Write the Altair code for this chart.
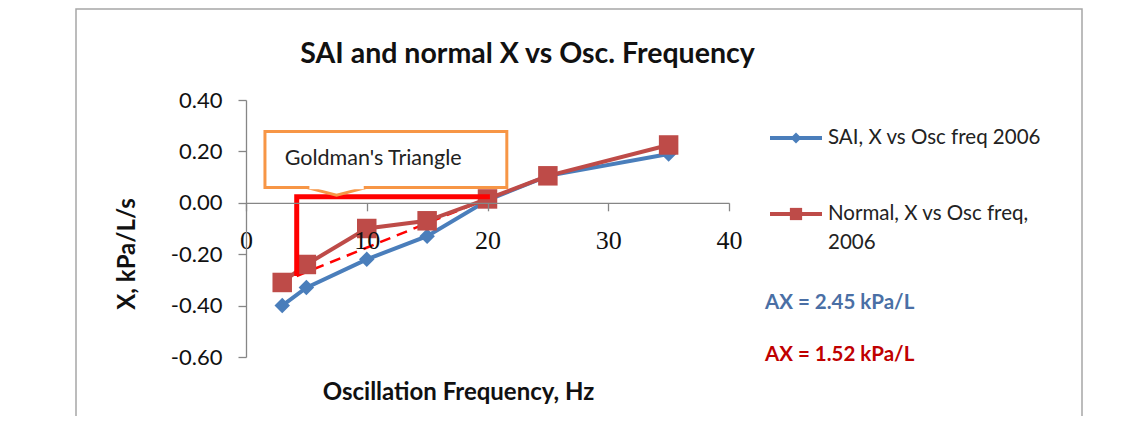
import altair as alt
import pandas as pd

# ---- data ----
freq = [3, 5, 10, 15, 20, 25, 35]
sai_x = [-0.40, -0.33, -0.22, -0.13, 0.01, 0.105, 0.19]
normal_x = [-0.31, -0.24, -0.10, -0.07, 0.015, 0.105, 0.225]
series_names = ["SAI, X vs Osc freq 2006", "Normal, X vs Osc freq, 2006"]

x_ticks = [0, 10, 20, 30, 40]
y_ticks = [-0.6, -0.4, -0.2, 0.0, 0.2, 0.4]

# Goldman's triangle (data coordinates)
tri_x = [4.2, 4.2, 20.2]
tri_y = [-0.285, 0.024, 0.024]
hyp_x = [4.2, 20.2]
hyp_y = [-0.285, 0.02]

# callout box (data coordinates)
box_x = [1.57, 21.6]
box_y = [0.06, 0.277]
notch_x = [5.0, 7.5, 10.0]
notch_y = [0.06, 0.03, 0.06]
callout_text = "Goldman's Triangle"
callout_pos = [3.2, 0.172]

title_text = "SAI and normal X vs Osc. Frequency"
x_title = "Oscillation Frequency, Hz"
y_title = "X, kPa/L/s"
ax_texts = ["AX = 2.45 kPa/L", "AX = 1.52 kPa/L"]

BLUE = "#4a7ebb"
RED = "#be4b48"
TRI = "#ff0000"
ORANGE = "#f79646"
AXIS_C = "#868686"

W, H = 483, 257

xs = alt.Scale(domain=[0, 40], nice=False, zero=False)
ys = alt.Scale(domain=[-0.6, 0.4], nice=False, zero=False)

X_AXIS = alt.Axis(
    values=x_ticks, grid=False, offset=-154.2, tickSize=8, labelPadding=38,
    labelBaseline="alphabetic", labelFont="Liberation Serif", labelFontSize=26,
    labelColor="#111", domainColor=AXIS_C, tickColor=AXIS_C, domainWidth=1.3,
    tickWidth=1.3, title=None, labelFlush=False, labelOverlap=False, zindex=1)
Y_AXIS = alt.Axis(
    values=y_ticks, grid=False, tickSize=8, labelPadding=16,
    labelExpr="replace(format(datum.value, '.2f'), '\u2212', '-')",
    labelFont="Lato", labelFontSize=22, labelColor="#111",
    domainColor=AXIS_C, tickColor=AXIS_C, domainWidth=1.3, tickWidth=1.3,
    title=None, labelOverlap=False, zindex=1)


def X(field):
    return alt.X(field, scale=xs, axis=X_AXIS)


def Y(field):
    return alt.Y(field, scale=ys, axis=Y_AXIS)


sai_df = pd.DataFrame({"f": freq, "x": sai_x, "s": series_names[0]})
nor_df = pd.DataFrame({"f": freq, "x": normal_x, "s": series_names[1]})
one = pd.DataFrame({"a": [0]})

# frame
frame = alt.Chart(one).mark_rect(fillOpacity=0, stroke="#a6a6a6", strokeWidth=1.5).encode(
    x=alt.value(-170), x2=alt.value(836), y=alt.value(-91), y2=alt.value(330)
)

tri_df = pd.DataFrame({"f": tri_x, "x": tri_y, "o": [0, 1, 2]})
hyp_df = pd.DataFrame({"f": hyp_x, "x": hyp_y, "o": [0, 1]})

tri = alt.Chart(tri_df).mark_line(color=TRI, strokeWidth=5, strokeJoin="miter").encode(
    x=X("f:Q"), y=Y("x:Q"), order="o:Q")
hyp = alt.Chart(hyp_df).mark_line(color=TRI, strokeWidth=2.5, strokeDash=[11, 7]).encode(
    x=X("f:Q"), y=Y("x:Q"), order="o:Q")

box_df = pd.DataFrame({"x1": [box_x[0]], "x2": [box_x[1]], "y1": [box_y[0]], "y2": [box_y[1]]})
box = alt.Chart(box_df).mark_rect(fill="white", stroke=ORANGE, strokeWidth=3).encode(
    x=X("x1:Q"), x2="x2:Q", y=Y("y1:Q"), y2="y2:Q")
notch_df = pd.DataFrame({"f": notch_x, "x": notch_y, "o": [0, 1, 2]})
notch = alt.Chart(notch_df).mark_line(color=ORANGE, strokeWidth=3).encode(
    x=X("f:Q"), y=Y("x:Q"), order="o:Q")
notch_cover = alt.Chart(pd.DataFrame({"f": [notch_x[0] + 0.25, notch_x[2] - 0.25],
                                      "x": [notch_y[0], notch_y[2]]})).mark_line(
    color="white", strokeWidth=3.5).encode(x=X("f:Q"), y=Y("x:Q"))
callout = alt.Chart(pd.DataFrame({"f": [callout_pos[0]], "x": [callout_pos[1]], "t": [callout_text]})).mark_text(
    align="left", baseline="middle", font="Lato", fontSize=21.5, color="#222").encode(
    x=X("f:Q"), y=Y("x:Q"), text="t:N")


def series(df, color, shape, size):
    ln = alt.Chart(df).mark_line(color=color, strokeWidth=4).encode(x=X("f:Q"), y=Y("x:Q"))
    pt = alt.Chart(df).mark_point(shape=shape, filled=True, opacity=1, color=color, size=size).encode(
        x=X("f:Q"), y=Y("x:Q"))
    return ln + pt


sai_layer = series(sai_df, BLUE, "diamond", 240)
nor_layer = series(nor_df, RED, "square", 380)


def txt(t, x, y, size, color="#111", weight="normal", align="left", angle=0, font="Lato"):
    kw = dict(align=align, baseline="middle", font=font, fontSize=size, color=color, fontWeight=weight)
    if angle:
        kw["angle"] = angle
    return alt.Chart(pd.DataFrame({"t": [t]})).mark_text(**kw).encode(
        x=alt.value(x), y=alt.value(y), text="t:N")


title = txt(title_text, 281.5, -46, 28.5, weight="bold", align="center")
xt = txt(x_title, 212.5, 293, 24, weight="bold", align="center")
yt = txt(y_title, -118, 154, 24, weight="bold", align="center", angle=270)

leg_blue_line = alt.Chart(one).mark_rule(color=BLUE, strokeWidth=4).encode(
    x=alt.value(524), x2=alt.value(576), y=alt.value(38))
leg_blue_pt = alt.Chart(one).mark_point(shape="diamond", filled=True, opacity=1, color=BLUE, size=120).encode(
    x=alt.value(550), y=alt.value(38))
leg_red_line = alt.Chart(one).mark_rule(color=RED, strokeWidth=4).encode(
    x=alt.value(524), x2=alt.value(576), y=alt.value(114))
leg_red_pt = alt.Chart(one).mark_point(shape="square", filled=True, opacity=1, color=RED, size=150).encode(
    x=alt.value(550), y=alt.value(114))
leg_t1 = txt(series_names[0], 582, 38, 20.5, color="#222")
leg_t2 = txt("Normal, X vs Osc freq,", 582, 114, 20.5, color="#222")
leg_t3 = txt("2006", 582, 143, 20.5, color="#222")
ax1 = txt(ax_texts[0], 519, 203, 20.5, color="#4a6fa5", weight="bold")
ax2 = txt(ax_texts[1], 519, 255, 20.5, color="#c00000", weight="bold")

chart = alt.layer(
    frame, hyp, sai_layer, nor_layer, tri, box, notch, notch_cover, callout,
    title, xt, yt, leg_blue_line, leg_blue_pt, leg_red_line, leg_red_pt,
    leg_t1, leg_t2, leg_t3, ax1, ax2
).properties(
    width=W, height=H,
    background="white",
    autosize=alt.AutoSizeParams(type="none"),
    padding={"left": 238, "top": 92, "right": 403, "bottom": 59},
).configure_view(stroke=None)

chart.save("out.html", embed_options={"renderer": "svg", "actions": False})
